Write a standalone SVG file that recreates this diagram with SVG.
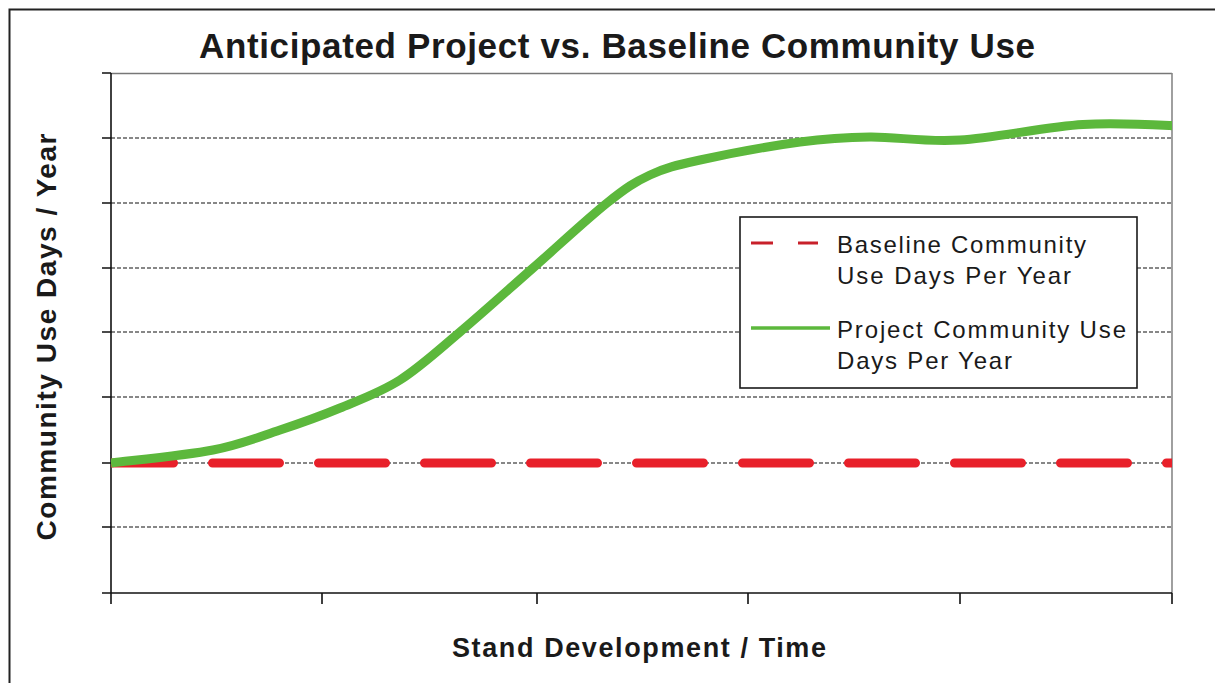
<svg xmlns="http://www.w3.org/2000/svg" width="1215" height="683" viewBox="0 0 1215 683">
<style>
.title{font-family:"Liberation Sans",Arial,sans-serif;font-weight:bold;fill:#1a1a1a}
.leg{font-family:"Liberation Sans",Arial,sans-serif;font-size:24px;fill:#1a1a1a}
.grid{stroke:#111;stroke-width:1.2;stroke-dasharray:4 2;fill:none}
.axis{stroke:#111;stroke-width:1.6;fill:none}
</style>
<defs>
<clipPath id="plotClip"><rect x="111" y="60" width="1061" height="540"/></clipPath>
</defs>
<rect width="1215" height="683" fill="#fff"/>
<rect x="9.5" y="9.5" width="1230" height="700" fill="none" stroke="#222" stroke-width="2"/>
<g id="title"><text class="title" x="617" y="58" font-size="35" text-anchor="middle" textLength="836" lengthAdjust="spacing">Anticipated Project vs. Baseline Community Use</text></g>
<g id="plot-frame">
<line x1="111" y1="73.5" x2="1172" y2="73.5" stroke="#777" stroke-width="1.3"/>
<line x1="1172" y1="73" x2="1172" y2="593" stroke="#888" stroke-width="1.6"/>
</g>
<g id="gridlines">
<line class="grid" x1="111" y1="138" x2="1172" y2="138"/>
<line class="grid" x1="111" y1="203" x2="1172" y2="203"/>
<line class="grid" x1="111" y1="268" x2="1172" y2="268"/>
<line class="grid" x1="111" y1="332" x2="1172" y2="332"/>
<line class="grid" x1="111" y1="397" x2="1172" y2="397"/>
<line class="grid" x1="111" y1="463" x2="1172" y2="463"/>
<line class="grid" x1="111" y1="527" x2="1172" y2="527"/>
</g>
<g id="axes">
<line class="axis" x1="111" y1="73" x2="111" y2="604"/>
<line class="axis" x1="102" y1="593" x2="1172" y2="593"/>
<path class="axis" d="M102,73H111M102,138H111M102,203H111M102,268H111M102,332H111M102,397H111M102,463H111M102,527H111"/>
<path class="axis" d="M322,593V604M537,593V604M748,593V604M960,593V604M1172,593V604"/>
</g>
<g id="axis-labels">
<text class="title" x="639" y="657" font-size="27" text-anchor="middle" textLength="374" lengthAdjust="spacing">Stand Development / Time</text>
<text class="title" font-size="28" text-anchor="middle" textLength="407" lengthAdjust="spacing" transform="translate(56,337) rotate(-90)">Community Use Days / Year</text>
</g>
<g id="connectors" clip-path="url(#plotClip)">
<line id="baseline-series" x1="111" y1="463" x2="1180" y2="463" stroke="#e8202a" stroke-width="9" stroke-linecap="round" stroke-dasharray="67 39" stroke-dashoffset="4.5"/>
<path id="project-series" d="M111,463 C128,460.8 184.8,455.5 213,450 C241.2,444.5 258.8,437 280,430 C301.2,423 320,416.3 340,408 C360,399.7 380,392.7 400,380 C420,367.3 437.8,350.7 460,332 C482.2,313.3 508.5,289.5 533,268 C557.5,246.5 587.5,218.5 607,203 C626.5,187.5 634.5,182.2 650,175 C665.5,167.8 675,165.5 700,160 C725,154.5 771.7,145.8 800,142 C828.3,138.2 843.3,137.3 870,137 C896.7,136.7 924.5,142.3 960,140 C995.5,137.7 1047.7,126.5 1083,124.5 C1118.3,122.5 1157.2,125 1180,126" fill="none" stroke="#5cb83c" stroke-width="9" stroke-linejoin="round"/>
</g>
<g id="legend">
<rect x="740" y="217" width="397" height="171" fill="#fff" stroke="#1a1a1a" stroke-width="1.6"/>
<line x1="751" y1="243" x2="818" y2="243" stroke="#c8202a" stroke-width="3" stroke-dasharray="22 25"/>
<line x1="751" y1="328" x2="830" y2="328" stroke="#5cb83c" stroke-width="3.5"/>
<text class="leg" x="837" y="253" textLength="249" lengthAdjust="spacing">Baseline Community</text>
<text class="leg" x="837" y="284" textLength="234" lengthAdjust="spacing">Use Days Per Year</text>
<text class="leg" x="837" y="338" textLength="289" lengthAdjust="spacing">Project Community Use</text>
<text class="leg" x="837" y="369" textLength="175" lengthAdjust="spacing">Days Per Year</text>
</g>
</svg>
